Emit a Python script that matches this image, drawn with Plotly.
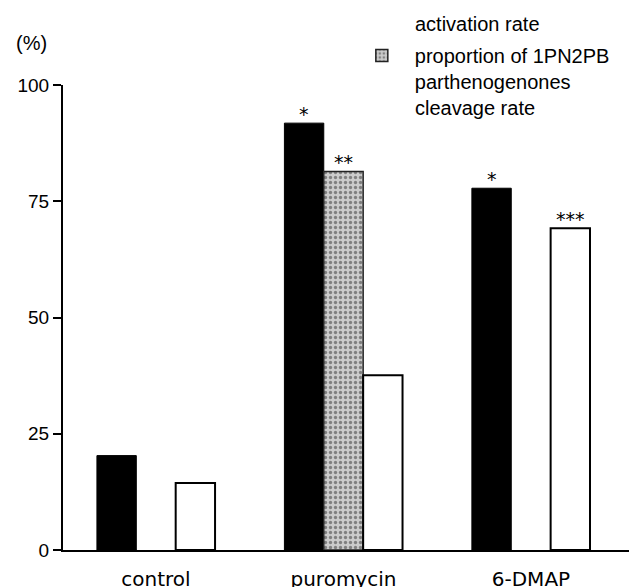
import plotly.graph_objects as go

categories = ["control", "puromycin", "6-DMAP"]
activation_rate = [20.3, 91.8, 77.8]
proportion_1pn2pb = [None, 81.4, None]
cleavage_rate = [14.4, 37.6, 69.2]
activation_marks = ["", "*", "*"]
proportion_marks = ["", "**", ""]
cleavage_marks = ["", "", "***"]
y_ticks = [0, 25, 50, 75, 100]

star_font = dict(family="DejaVu Sans", size=19, color="black")
bargap = 0.37
slot = (1 - bargap) / 3

fig = go.Figure()
fig.add_trace(go.Bar(
    x=categories, y=activation_rate, name="activation rate",
    marker=dict(color="black", line=dict(color="black", width=1)),
    showlegend=False,
))
fig.add_trace(go.Bar(
    x=categories, y=proportion_1pn2pb, name="proportion of 1PN2PB<br>parthenogenones",
    marker=dict(color="#c8c8c8", line=dict(color="#222222", width=1.5),
                pattern=dict(shape=".", fgcolor="#333333", bgcolor="#cccccc",
                             size=5, solidity=0.35, fillmode="overlay")),
    showlegend=True,
))
fig.add_trace(go.Bar(
    x=categories, y=cleavage_rate, name="cleavage rate",
    marker=dict(color="white", line=dict(color="black", width=2)),
    showlegend=False,
))

annotations = [
    dict(text="(%)", xref="paper", yref="paper", x=-0.0565, y=1.09,
         xanchor="center", yanchor="middle", showarrow=False,
         font=dict(family="Liberation Sans", size=20)),
    dict(text="activation rate", xref="paper", yref="paper", x=0.618, y=1.131,
         xanchor="left", yanchor="middle", showarrow=False,
         font=dict(family="Liberation Sans", size=20)),
    dict(text="cleavage rate", xref="paper", yref="paper", x=0.618, y=0.9505,
         xanchor="left", yanchor="middle", showarrow=False,
         font=dict(family="Liberation Sans", size=20)),
]
for k, (vals, marks) in enumerate([(activation_rate, activation_marks),
                                   (proportion_1pn2pb, proportion_marks),
                                   (cleavage_rate, cleavage_marks)]):
    for i, (v, m) in enumerate(zip(vals, marks)):
        if m and v is not None:
            annotations.append(dict(
                text=m, x=i + (k - 1) * slot, y=v, xref="x", yref="y",
                xanchor="center", yanchor="bottom", yshift=-4,
                showarrow=False, font=star_font))

fig.update_layout(
    width=629, height=587, autosize=False,
    margin=dict(l=63, r=0, t=85, b=37, pad=0, autoexpand=False),
    plot_bgcolor="white", paper_bgcolor="white",
    barmode="group", bargap=bargap, bargroupgap=0,
    font=dict(family="Liberation Sans", size=19, color="black"),
    legend=dict(x=0.505, y=1.1055, xanchor="left", yanchor="top",
                itemwidth=56, valign="top", bgcolor="rgba(0,0,0,0)",
                font=dict(family="Liberation Sans", size=20, color="black")),
    xaxis=dict(type="category", range=[-0.496, 2.523], showline=True,
               linecolor="black", linewidth=2, ticks="", showgrid=False,
               zeroline=False, automargin=False, ticklabelstandoff=10,
               tickfont=dict(family="DejaVu Sans", size=20)),
    yaxis=dict(range=[0, 100], tickvals=y_ticks, showline=True,
               linecolor="black", linewidth=2, ticks="outside", ticklen=8,
               tickwidth=2, tickcolor="black", showgrid=False, zeroline=False,
               automargin=False,
               tickfont=dict(family="Liberation Sans", size=19)),
    annotations=annotations,
)

fig.write_html("out.html", config={"displayModeBar": False},
               post_script="document.body.style.margin='0px';document.body.style.padding='0px';")
